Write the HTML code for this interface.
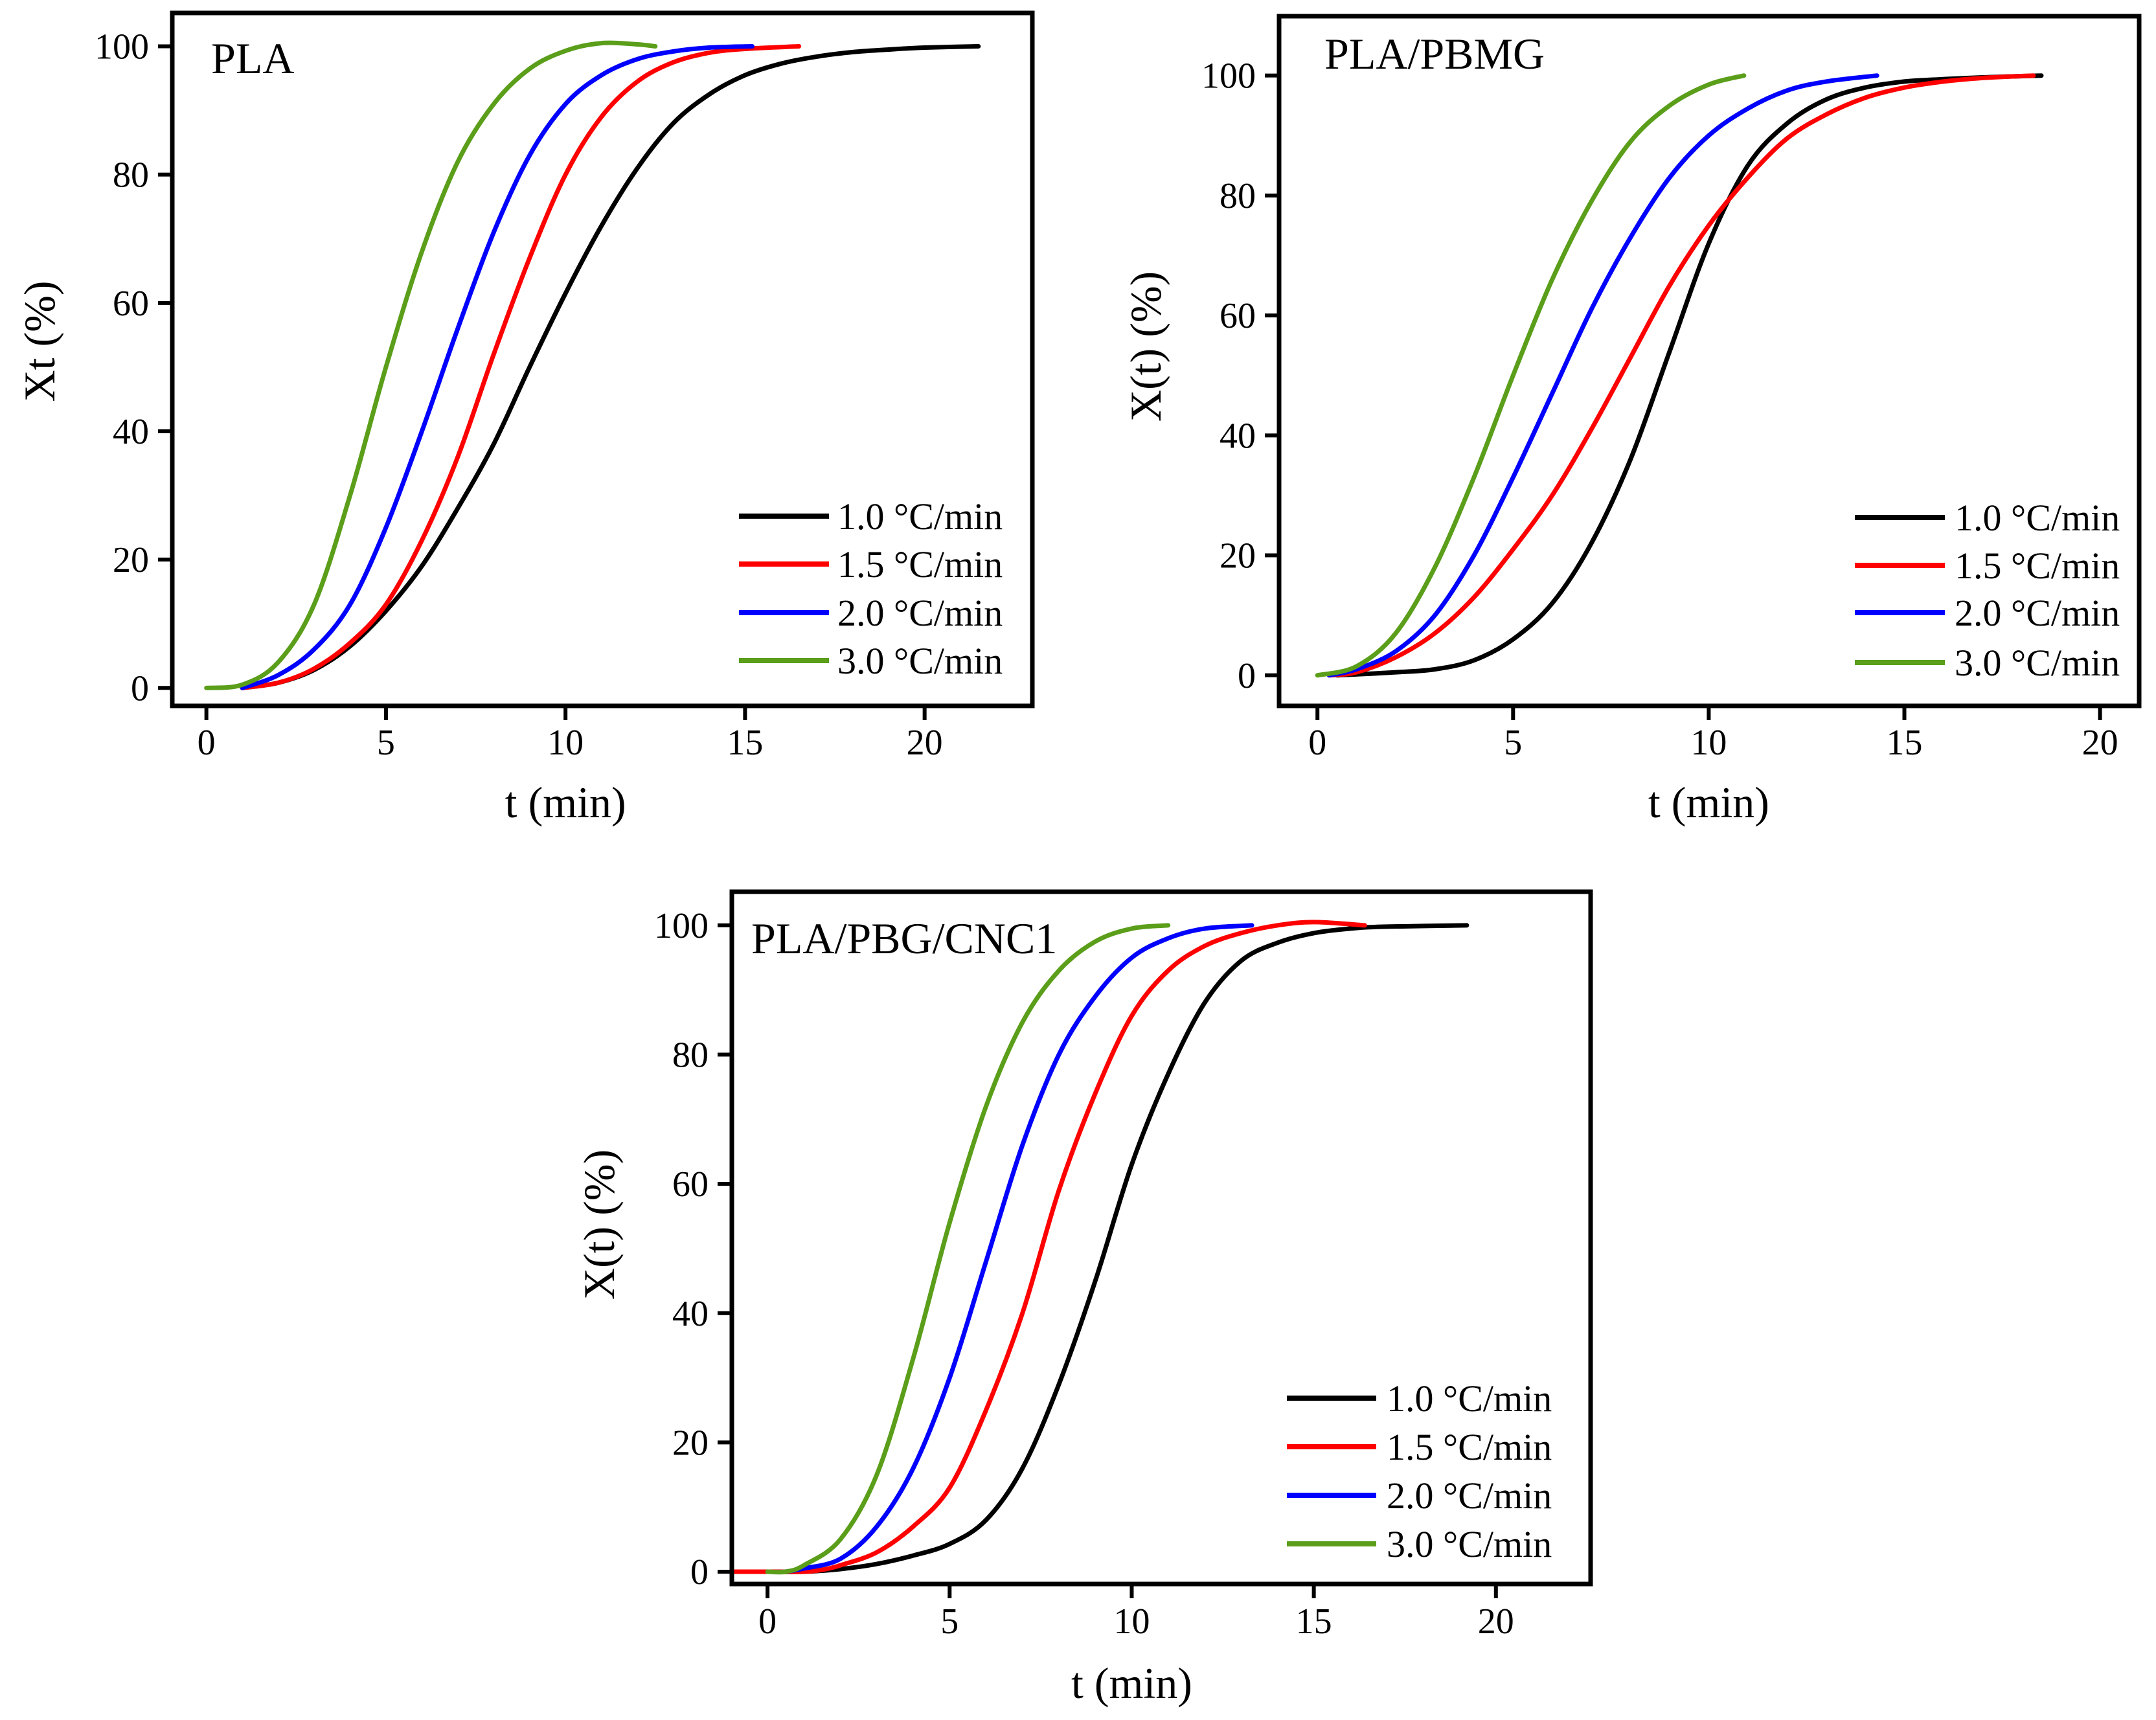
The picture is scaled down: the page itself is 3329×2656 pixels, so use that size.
<!DOCTYPE html>
<html><head><meta charset="utf-8"><style>
html,body{margin:0;padding:0;background:#fff;}
svg{display:block;}
text{font-family:"Liberation Serif",serif;fill:#000;}
</style></head><body>
<svg id="fig" width="3329" height="2656" viewBox="0 0 3329 2656"></svg>
<script>
// ---- data (t in min, X in %) ----
const rateLabels = ["1.0 °C/min","1.5 °C/min","2.0 °C/min","3.0 °C/min"];
const seriesColors = ["#000000","#ff0000","#0000ff","#5a9e1a"];
const xTicks = [0,5,10,15,20];
const yTicks = [0,20,40,60,80,100];

// Panel 1: PLA
const plaT1 = [1,2,3,4,5,6,7,8,9,10,11,12,13,14,15,16,17,18,19,20,21.5];
const plaX1 = [0,0.8,2.8,6.5,12,19,28,38,50,61.5,72,81,88,92.5,95.5,97.3,98.4,99.1,99.5,99.8,100];
const plaT2 = [1,2,3,4,5,6,7,8,9,10,11,12,13,14,15,16.5];
const plaX2 = [0,0.8,3,7,13,23,36,52,67,80,89,94.5,97.5,99,99.6,100];
const plaT3 = [1,2,3,4,5,6,7,8,9,10,11,12,13,14,15.2];
const plaX3 = [0,2,6,13,25,40,56,71,83,91,95.5,98,99.2,99.8,100];
const plaT4 = [0,1,2,3,4,5,6,7,8,9,10,11,12,12.5];
const plaX4 = [0,0.5,4,13,30,50,68,82,91,96.5,99.3,100.5,100.3,100];

// Panel 2: PLA/PBMG
const pbmgT1 = [0.5,2,3,4,5,6,7,8,9,10,11,12,13,14,15,16,17,18.5];
const pbmgX1 = [0,0.5,1,2.5,6,12,22,36,54,72,85,92,96,98,99,99.4,99.7,100];
const pbmgT2 = [0.3,1,2,3,4,5,6,7,8,9,10,11,12,13,14,15,16,17,18.3];
const pbmgX2 = [0,0.5,3,7,13,21,30,41,53,65,75,83,89.5,93.5,96.3,98,99,99.6,100];
const pbmgT3 = [0.3,1,2,3,4,5,6,7,8,9,10,11,12,13,14.3];
const pbmgX3 = [0,1,4,10,20,33,47,61,73,83,90,94.5,97.5,99,100];
const pbmgT4 = [0,1,2,3,4,5,6,7,8,9,10,10.9];
const pbmgX4 = [0,1.5,7,18,33,50,66,79,89,95,98.5,100];

// Panel 3: PLA/PBG/CNC1
const cncT1 = [-1,0,1,2,3,4,5,6,7,8,9,10,11,12,13,14,15,16,17,19.2];
const cncX1 = [0,0,0,0.4,1.2,2.5,4.3,8,16,29,45,63,77,88,94.5,97.3,98.8,99.5,99.8,100];
const cncT2 = [-1,0,1,1.5,2,3,4,5,6,7,8,9,10,11,12,13,14,15,16.4];
const cncX2 = [0,0,0,0.3,1,3,7,13,25,40,59,74,86,93,96.8,98.8,100,100.5,100];
const cncT3 = [0.5,1,2,3,4,5,6,7,8,9,10,11,12,13.3];
const cncX3 = [0,0.5,2,7,16,30,48,66,80,89,95,98,99.5,100];
const cncT4 = [0,0.5,1,2,3,4,5,6,7,8,9,10,11];
const cncX4 = [0,0,1,5,15,33,54,72,85,93,97.5,99.5,100];

const NS = "http://www.w3.org/2000/svg";
const svg = document.getElementById("fig");
function mk(tag, attrs, parent){const e=document.createElementNS(NS,tag);for(const k in attrs)e.setAttribute(k,attrs[k]);(parent||svg).appendChild(e);return e;}

const panels = [
 {name:"pla", title:"PLA", ylab:"Xt (%)", box:[266,20,1594,1090], xr:[-0.95,23], yr:[-2.8,105.2],
  tx:326, ty:113, ylx:62, yly:527, xly:1262, tly:1165, leg:[1141,1280,1293,[797,871,946,1020]],
  data:[[plaT1,plaX1],[plaT2,plaX2],[plaT3,plaX3],[plaT4,plaX4]]},
 {name:"pbmg", title:"PLA/PBMG", ylab:"X(t) (%)", box:[1975,25,3303,1090], xr:[-0.98,21], yr:[-5.1,109.9],
  tx:2045, ty:106, ylx:1770, yly:535, xly:1262, tly:1165, leg:[2864,3003,3018,[799,873,946,1023]],
  data:[[pbmgT1,pbmgX1],[pbmgT2,pbmgX2],[pbmgT3,pbmgX3],[pbmgT4,pbmgX4]]},
 {name:"cnc", title:"PLA/PBG/CNC1", ylab:"X(t) (%)", box:[1130,1377,2456,2446], xr:[-0.98,22.6], yr:[-1.9,105.2],
  tx:1160, ty:1472, ylx:926, yly:1891, xly:2622, tly:2522, leg:[1987,2125,2141,[2159,2234,2309,2384]],
  data:[[cncT1,cncX1],[cncT2,cncX2],[cncT3,cncX3],[cncT4,cncX4]]}
];

function smoothPath(pts){
  let d="M"+pts[0][0].toFixed(1)+","+pts[0][1].toFixed(1);
  for(let i=0;i<pts.length-1;i++){
    const p0=pts[Math.max(0,i-1)],p1=pts[i],p2=pts[i+1],p3=pts[Math.min(pts.length-1,i+2)];
    const c1=[p1[0]+(p2[0]-p0[0])/6,p1[1]+(p2[1]-p0[1])/6];
    const c2=[p2[0]-(p3[0]-p1[0])/6,p2[1]-(p3[1]-p1[1])/6];
    d+=" C"+c1[0].toFixed(1)+","+c1[1].toFixed(1)+" "+c2[0].toFixed(1)+","+c2[1].toFixed(1)+" "+p2[0].toFixed(1)+","+p2[1].toFixed(1);
  }
  return d;
}

panels.forEach(p=>{
  const [L,T,R,B]=p.box;
  const g=mk("g",{});
  
  
  const xs=v=>L+(v-p.xr[0])/(p.xr[1]-p.xr[0])*(R-L);
  const ys=v=>B-(v-p.yr[0])/(p.yr[1]-p.yr[0])*(B-T);
  const cg=mk("g",{},g);
  p.data.forEach((s,i)=>{
    const pts=s[0].map((t,j)=>[xs(t),ys(s[1][j])]);
    const path=mk("path",{d:smoothPath(pts),fill:"none",stroke:seriesColors[i],"stroke-width":7,"stroke-linejoin":"round","stroke-linecap":"round"},cg);
    
    
  });
  yTicks.forEach(v=>{
    const y=ys(v);
    const tk=mk("line",{x1:L-22,x2:L,y1:y,y2:y,stroke:"#000","stroke-width":6},g);
    
    
    const tl=mk("text",{x:L-36,y:y+19,"font-size":56,"text-anchor":"end"},g);
    tl.textContent=v;
    
    
  });
  xTicks.forEach(v=>{
    const x=xs(v);
    const tk=mk("line",{x1:x,x2:x,y1:B,y2:B+22,stroke:"#000","stroke-width":6},g);
    
    
    const tl=mk("text",{x:x,y:p.tly,"font-size":56,"text-anchor":"middle"},g);
    tl.textContent=v;
    
    
  });
  const fr=mk("rect",{x:L,y:T,width:R-L,height:B-T,fill:"none",stroke:"#000","stroke-width":7},g);
  
  
  const tt=mk("text",{x:p.tx,y:p.ty,"font-size":68},g);
  tt.textContent=p.title;
  
  
  const xl=mk("text",{x:(xs(0)+xs(20))/2,y:p.xly,"font-size":68,"text-anchor":"middle"},g);
  xl.textContent="t (min)";
  
  
  const yl=mk("text",{x:0,y:0,"font-size":68,"text-anchor":"middle",transform:"translate("+(p.ylx+22)+","+p.yly+") rotate(-90)"},g);
  yl.textContent=p.ylab;
  
  
  const lg=mk("g",{},g);
  
  
  rateLabels.forEach((lab,i)=>{
    const y=p.leg[3][i];
    const ln=mk("line",{x1:p.leg[0],x2:p.leg[1],y1:y,y2:y,stroke:seriesColors[i],"stroke-width":8},lg);
    
    
    const tx=mk("text",{x:p.leg[2],y:y+20,"font-size":58},lg);
    tx.textContent=lab;
    
    
  });
});
</script>
</body></html>
